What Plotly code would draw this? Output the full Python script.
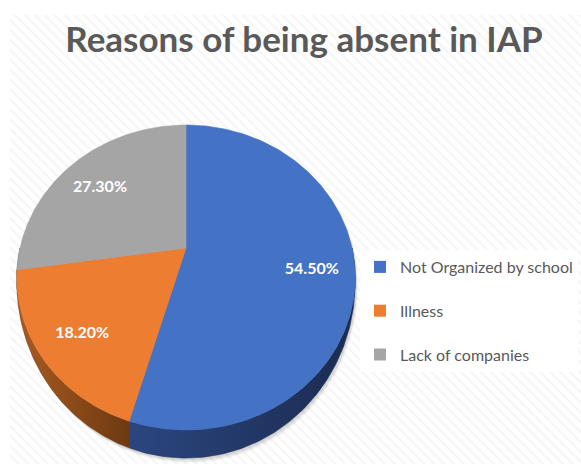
import numpy as np
import plotly.graph_objects as go

# --- chart data -------------------------------------------------------------
categories = ["Not Organized by school", "Illness", "Lack of companies"]
shares = [54.5, 18.2, 27.3]
face_colors = ["#4472C4", "#ED7D31", "#A5A5A5"]
side_gradients = [
    ["#2b4680", "#1b2b50"],
    ["#a95b20", "#6e3912"],
    ["#7b7b7b", "#5c5c5c"],
]
title_text = "Reasons of being absent in IAP"

# --- canvas / tilted-pie geometry (pixel-space axes) ---------------------------
W, H = 581, 464
CX, CY = 186, 248          # pie centre on the page
KX, KY = 166, 146.8        # horizontal / vertical radius scale
PERSP = 0.1935             # near edge drawn larger than far edge
DEPTH = 28                 # wall height at the front of the pie
LABEL_DROP = 6             # labels sit slightly below the mid-radius point
FONT = "Lato, 'Open Sans', sans-serif"


def project(theta_deg, rho=1.0):
    """Angle clockwise from 12 o'clock -> point on the tilted top face."""
    t = np.radians(theta_deg)
    x3, z3 = rho * np.sin(t), rho * np.cos(t)
    d = 1 + PERSP * z3
    return CX + KX * x3 / d, CY - KY * z3 / d


def wall(theta_deg):
    c = np.cos(np.radians(theta_deg))
    return DEPTH * np.clip(-c, 0, None) ** 1.15


total = sum(shares)
bounds = np.concatenate([[0], np.cumsum(shares) / total * 360])

fig = go.Figure()

# striped chart-area background
fig.add_trace(go.Bar(
    x=[(10 + W) / 2], y=[H - 15], base=[15], width=[W - 10],
    marker=dict(color="white", line=dict(width=0),
                pattern=dict(shape="\\", fgcolor="#ebebeb", bgcolor="white",
                             size=7, solidity=0.3)),
    hoverinfo="skip", showlegend=False,
))

# soft drop shadow under the pie
full = np.linspace(0, 360, 361)
sx, sy = project(full)
sy = sy + wall(full)
for k, a in enumerate([0.05, 0.05, 0.04, 0.03]):
    off = k + 2
    fig.add_trace(go.Scatter(
        x=sx + off * 0.6, y=sy + off, fill="toself", mode="lines",
        line=dict(width=0), fillcolor=f"rgba(0,0,0,{a})",
        hoverinfo="skip", showlegend=False,
    ))

# side walls (only the front half is visible)
for i in range(len(shares)):
    a0, a1 = max(bounds[i], 90), min(bounds[i + 1], 270)
    if a1 <= a0:
        continue
    ang = np.linspace(a0, a1, 120)
    tx, ty = project(ang)
    bx, by = tx, ty + wall(ang)
    fig.add_trace(go.Scatter(
        x=np.concatenate([tx, bx[::-1]]), y=np.concatenate([ty, by[::-1]]),
        fill="toself", mode="lines", line=dict(width=0.6, color=side_gradients[i][1]),
        fillgradient=dict(type="horizontal",
                          colorscale=[[0, side_gradients[i][0]], [1, side_gradients[i][1]]]),
        hoverinfo="skip", showlegend=False,
    ))

# top faces
for i in range(len(shares)):
    ang = np.linspace(bounds[i], bounds[i + 1], 200)
    rx, ry = project(ang)
    fig.add_trace(go.Scatter(
        x=np.concatenate([[CX], rx, [CX]]), y=np.concatenate([[CY], ry, [CY]]),
        fill="toself", mode="lines", line=dict(width=0.6, color=face_colors[i]),
        fillcolor=face_colors[i], hoverinfo="skip", showlegend=False,
    ))

# percentage labels
mids = (bounds[:-1] + bounds[1:]) / 2
lx, ly = project(mids, 0.75)
fig.add_trace(go.Scatter(
    x=lx, y=ly + LABEL_DROP, mode="text",
    text=[f"{v:.2f}%" for v in shares],
    textfont=dict(family=FONT, size=16, color="white", weight="bold"),
    hoverinfo="skip", showlegend=False,
))

# legend entries
for i, name in enumerate(categories):
    fig.add_trace(go.Scatter(
        x=[None], y=[None], mode="markers", name=name, legendgroup=f"g{i}",
        marker=dict(symbol="square", size=10, color=face_colors[i]),
    ))

fig.update_layout(
    width=W, height=H, margin=dict(l=0, r=0, t=0, b=0),
    paper_bgcolor="white", plot_bgcolor="rgba(0,0,0,0)",
    xaxis=dict(range=[0, W], visible=False, fixedrange=True),
    yaxis=dict(range=[H, 0], visible=False, fixedrange=True),
    title=dict(text=title_text, x=304 / W, xanchor="center", y=1 - 40 / H, yanchor="middle",
               font=dict(family=FONT, size=35, color="#595959", weight="bold")),
    legend=dict(x=360 / W, xanchor="left", y=1 - 250 / H, yanchor="top",
                bgcolor="white", font=dict(family=FONT, size=16, color="#595959"),
                tracegroupgap=20, itemsizing="constant"),
    showlegend=True,
)

fig.write_html("out.html")
